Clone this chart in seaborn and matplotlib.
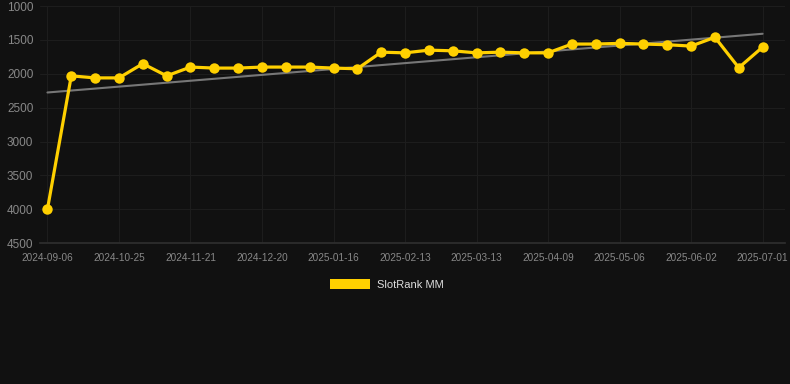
import numpy as np
import pandas as pd
import matplotlib
matplotlib.use("Agg")
import matplotlib.pyplot as plt
import seaborn as sns
from matplotlib.patches import Patch

# datas (as intermediárias são estimadas, só cada 3ª aparece no eixo)
datas = [
    "2024-09-06", "2024-10-07", "2024-10-16", "2024-10-25", "2024-11-03",
    "2024-11-12", "2024-11-21", "2024-12-01", "2024-12-10", "2024-12-20",
    "2024-12-29", "2025-01-07", "2025-01-16", "2025-01-25", "2025-02-04",
    "2025-02-13", "2025-02-22", "2025-03-04", "2025-03-13", "2025-03-22",
    "2025-03-31", "2025-04-09", "2025-04-18", "2025-04-27", "2025-05-06",
    "2025-05-15", "2025-05-24", "2025-06-02", "2025-06-12", "2025-06-21",
    "2025-07-01",
]
rank = [
    4000, 2030, 2060, 2060, 1850, 2030, 1900, 1915, 1915, 1900,
    1900, 1900, 1915, 1925, 1680, 1690, 1650, 1660, 1690, 1680,
    1690, 1690, 1560, 1560, 1550, 1560, 1570, 1590, 1460, 1910,
    1605,
]
serie = "SlotRank MM"
y_ticks = [1000, 1500, 2000, 2500, 3000, 3500, 4000, 4500]

df = pd.DataFrame({"data": datas, "rank": rank})
df["idx"] = np.arange(len(df))

sns.set_theme(style="dark")
plt.rcParams["font.family"] = ["Liberation Sans", "DejaVu Sans"]

fundo = "#111111"
amarelo = "#FFD000"

fig = plt.figure(figsize=(7.9, 3.84), dpi=100, facecolor=fundo)
ax = fig.add_axes([0.051, 0.367, 0.943, 0.617])
ax.set_facecolor(fundo)

# linha de tendência
sns.regplot(data=df, x="idx", y="rank", scatter=False, ci=None, ax=ax,
            line_kws={"color": "#777777", "linewidth": 1.5, "zorder": 2})

# série principal
sns.lineplot(data=df, x="idx", y="rank", ax=ax, color=amarelo, linewidth=2.3,
             marker="o", markersize=7.5, markeredgewidth=0, zorder=3)

ax.set_ylim(4500, 1000)
ax.set_xlim(-0.3, len(df) - 0.05)
ax.set_yticks(y_ticks)
ax.set_yticklabels([str(v) for v in y_ticks])
ticks_x = df["idx"][::3]
ax.set_xticks(ticks_x)
ax.set_xticklabels(df["data"][::3])

ax.grid(True, color="#1d1d1d", linewidth=0.8)
ax.tick_params(axis="y", colors="#888888", labelsize=8.5, length=0, pad=5)
ax.tick_params(axis="x", colors="#888888", labelsize=7.2, length=3, pad=4,
               color="#2a2a2a")
for lado in ["top", "right", "left"]:
    ax.spines[lado].set_visible(False)
ax.spines["bottom"].set_color("#2e2e2e")
ax.set_xlabel("")
ax.set_ylabel("")

fig.legend(handles=[Patch(facecolor=amarelo, edgecolor="none", label=serie)],
           loc="center", bbox_to_anchor=(0.49, 0.26), frameon=False,
           fontsize=8, labelcolor="#dddddd", handlelength=3.6,
           handleheight=1.1, handletextpad=0.6)

plt.savefig("out.png", dpi=100, facecolor=fundo)
